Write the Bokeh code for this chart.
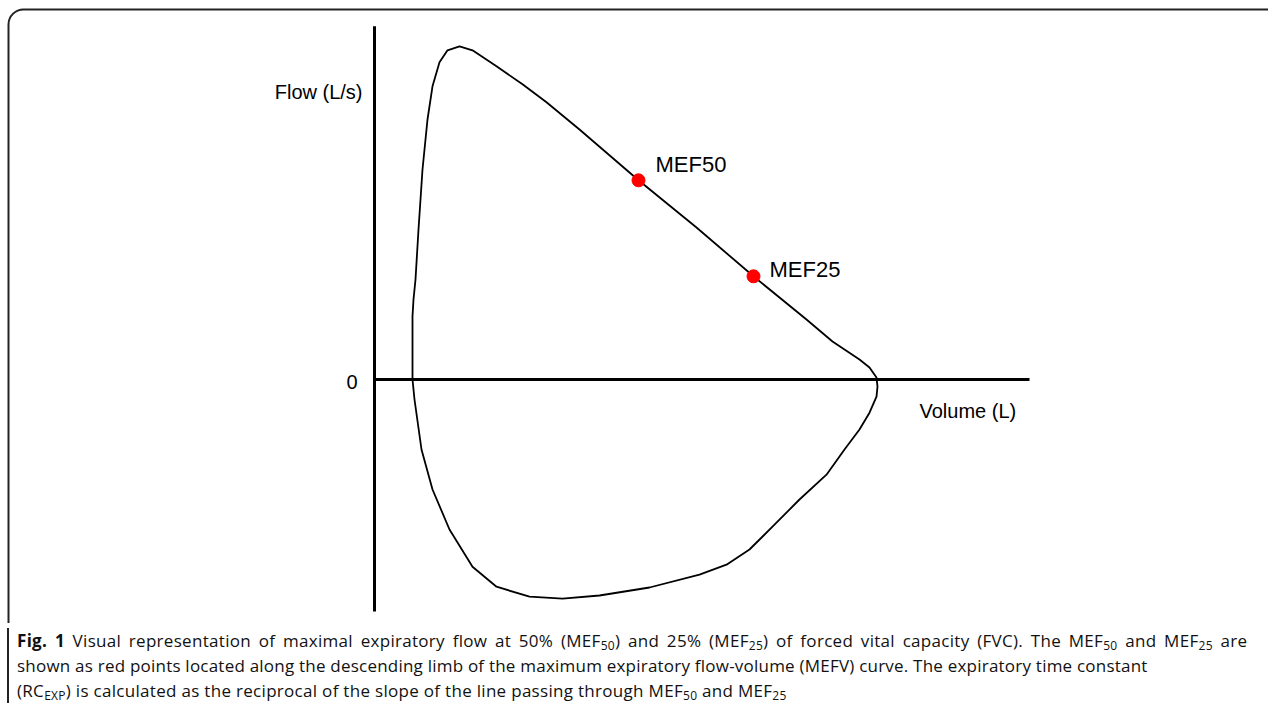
from bokeh.plotting import figure
from bokeh.models import Div, BoxAnnotation
from bokeh.layouts import column
from bokeh.embed import file_html
from bokeh.resources import INLINE
from bokeh.core.properties import value

# Flow-volume loop (volume in L, flow in L/s)
loop_volume = [0.38, 0.38, 0.38, 0.39, 0.41, 0.44, 0.48, 0.53, 0.58, 0.65, 0.73, 0.85,
               0.98, 1.22, 1.48, 1.72, 2.05, 2.64, 3.22, 3.79, 4.32, 4.58, 4.85,
               4.95, 5.02, 5.03, 5.02, 4.95, 4.85, 4.70, 4.52, 4.25, 3.98, 3.75,
               3.52, 3.25, 2.75, 2.25, 1.88, 1.55, 1.22, 0.98, 0.75, 0.58, 0.47,
               0.40, 0.38]
loop_flow = [0.00, 0.75, 1.58, 2.00, 2.50, 3.75, 5.25, 6.50, 7.33, 7.93, 8.23, 8.33,
             8.23, 7.83, 7.38, 6.93, 6.25, 4.98, 3.80, 2.58, 1.50, 0.95, 0.50,
             0.30, 0.05, -0.18, -0.43, -0.83, -1.25, -1.75, -2.38, -3.00, -3.68, -4.25,
             -4.63, -4.88, -5.20, -5.40, -5.48, -5.43, -5.18, -4.68, -3.75, -2.75, -1.75,
             -0.50, 0.00]

point_names = ["MEF50", "MEF25"]
point_volume = [2.64, 3.79]
point_flow = [4.98, 2.58]
label_volume = [2.81, 3.95]
label_flow = [5.38, 2.75]

axis_volume_end = 6.55
axis_flow_top = 8.83
axis_flow_bottom = -5.80

x_label = "Volume (L)"
y_label = "Flow (L/s)"
zero_label = "0"

W, H = 1268, 623
p = figure(width=W, height=H, output_backend="svg", toolbar_location=None,
           x_range=(-3.74, 8.94), y_range=(-6.1, 9.475), min_border=0)
p.axis.visible = False
p.grid.visible = False
p.outline_line_color = None
p.background_fill_color = "white"
p.border_fill_color = "white"

# rounded frame around the figure (decoration)
p.add_layout(BoxAnnotation(left=-3.66, top=9.25, right=20, bottom=-20,
                           fill_color=None, fill_alpha=0, line_color="#222222",
                           line_alpha=1.0, line_width=2, border_radius=15))

# axes
p.segment(x0=[0, 0], y0=[axis_flow_bottom, 0], x1=[0, axis_volume_end], y1=[axis_flow_top, 0],
          line_color="black", line_width=3)

# loop
p.line(loop_volume, loop_flow, line_color="black", line_width=1.8, line_join="round")

# points
p.scatter(point_volume, point_flow, size=13, fill_color="#ff0000", line_color="#ff0000")

font = value("Liberation Sans")
p.text(label_volume, label_flow, text=point_names, text_font=font, text_font_size="22px",
       text_baseline="middle", text_align="left", text_color="black")
p.text([-0.12], [7.2], text=[y_label], text_font=font, text_font_size="20px",
       text_baseline="middle", text_align="right", text_color="black")
p.text([5.45], [-0.78], text=[x_label], text_font=font, text_font_size="20px",
       text_baseline="middle", text_align="left", text_color="black")
p.text([-0.17], [-0.05], text=[zero_label], text_font=font, text_font_size="20px",
       text_baseline="middle", text_align="right", text_color="black")

sub = '<sub style="font-size:12px;line-height:0;vertical-align:-3px">{}</sub>'
caption_lines = [
    '<span style="word-spacing:3px">'
    "<b>Fig. 1</b> Visual representation of maximal expiratory flow at 50% (MEF" + sub.format("50") +
    ") and 25% (MEF" + sub.format("25") + ") of forced vital capacity (FVC). The MEF" + sub.format("50") +
    " and MEF" + sub.format("25") + " are</span>",
    '<span style="letter-spacing:0.22px">'
    "shown as red points located along the descending limb of the maximum expiratory flow-volume "
    "(MEFV) curve. The expiratory time constant</span>",
    "(RC" + sub.format("EXP") + ") is calculated as the reciprocal of the slope of the line passing through MEF" +
    sub.format("50") + " and MEF" + sub.format("25"),
]
div = Div(text="<br>".join(caption_lines), width=W - 8, height=75,
          styles={"font-family": "'Open Sans', sans-serif", "font-size": "17px",
                  "line-height": "25px", "color": "#111111", "letter-spacing": "0.3px",
                  "white-space": "nowrap",
                  "border-left": "2px solid #222222", "margin-left": "7px",
                  "padding-left": "8px", "box-sizing": "border-box"})

layout = column(p, div, spacing=0)
open("out.html", "w").write(file_html(layout, INLINE))
